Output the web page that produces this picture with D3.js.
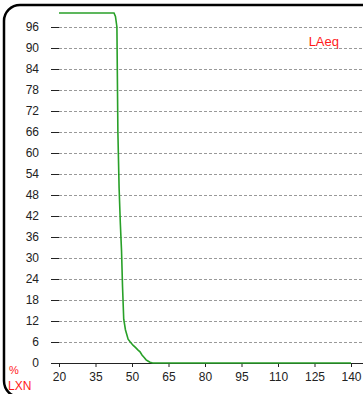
<!DOCTYPE html>
<html>
<head>
<meta charset="utf-8">
<script src="https://cdn.jsdelivr.net/npm/d3@7"></script>
<style>
  body { margin: 0; background: #fff; }
  svg { display: block; font-family: "Liberation Sans", Arial, sans-serif; }
</style>
</head>
<body>
<script>
'use strict';

// level in dB(A) vs percentage of time exceeded (LXN)
const levels = [20, 42.6, 43.2, 43.8, 44.2, 44.7, 45.2, 45.7, 46.1, 46.6, 47.3, 48.4, 49.3, 50.4, 51.5, 52.5, 53.3, 54.1, 55.0, 55.8, 56.7, 57.4, 58.5, 140];
const percents = [100, 100, 99, 96, 66, 50, 40, 32, 22, 12.5, 9.5, 6.8, 6, 5.1, 4.4, 3.7, 3.2, 2.3, 1.6, 0.9, 0.5, 0.2, 0, 0];
const yTicks = [0, 6, 12, 18, 24, 30, 36, 42, 48, 54, 60, 66, 72, 78, 84, 90, 96];
const xTicks = [20, 35, 50, 65, 80, 95, 110, 125, 140];

const W = 363, H = 394;

const svg = d3.select('body').append('svg')
    .attr('width', W)
    .attr('height', H);

// rounded frame
svg.append('rect')
    .attr('x', 4).attr('y', 5)
    .attr('width', 380).attr('height', 392)
    .attr('rx', 16)
    .attr('fill', 'none')
    .attr('stroke', '#000')
    .attr('stroke-width', 2.5);

const x = d3.scaleLinear().domain([20, 140]).range([59, 351]);
const y = d3.scaleLinear().domain([0, 100]).range([363, 13]);

// grid lines and y tick marks
const grid = svg.append('g');
yTicks.filter(d => d > 0).forEach(d => {
    grid.append('line')
        .attr('x1', 59).attr('x2', W)
        .attr('y1', y(d) + 0.5).attr('y2', y(d) + 0.5)
        .attr('stroke', '#999')
        .attr('stroke-dasharray', '3,2');
    grid.append('line')
        .attr('x1', 51).attr('x2', 59)
        .attr('y1', y(d) + 0.5).attr('y2', y(d) + 0.5)
        .attr('stroke', '#222');
});

// y labels
svg.append('g').selectAll('text')
    .data(yTicks)
    .enter()
    .append('text')
    .attr('x', 39)
    .attr('y', d => y(d))
    .attr('dy', '0.35em')
    .attr('text-anchor', 'end')
    .style('font-size', '12px')
    .attr('fill', '#222')
    .text(d => d);

// x axis
const xAxis = d3.axisBottom(x).tickValues(xTicks).tickSize(4).tickSizeOuter(0).tickPadding(5);
const gx = svg.append('g')
    .attr('transform', 'translate(0,363)')
    .call(xAxis);
gx.select('.domain').remove();
gx.append('line')
    .attr('x1', 51).attr('x2', W)
    .attr('y1', 0.5).attr('y2', 0.5)
    .attr('stroke', '#222');
gx.selectAll('.tick line').attr('stroke', '#222');
gx.selectAll('.tick text')
    .attr('fill', '#222')
    .style('font-size', '12px')
    .style('font-family', '"Liberation Sans", Arial, sans-serif');

// curve
const line = d3.line()
    .x((d, i) => x(levels[i]))
    .y(d => y(d));

svg.append('path')
    .datum(percents)
    .attr('fill', 'none')
    .attr('stroke', '#28a028')
    .attr('stroke-width', 1.6)
    .attr('d', line);

// labels
svg.append('text')
    .attr('x', 339).attr('y', 41)
    .attr('dy', '0.35em')
    .attr('text-anchor', 'end')
    .attr('fill', '#ff1a1a')
    .style('font-size', '13px')
    .text('LAeq');

svg.append('text')
    .attr('x', 9).attr('y', 374)
    .attr('fill', '#ff1a1a')
    .style('font-size', '11px')
    .text('%');

svg.append('text')
    .attr('x', 8).attr('y', 390)
    .attr('fill', '#ff1a1a')
    .style('font-size', '12px')
    .text('LXN');
</script>
</body>
</html>
